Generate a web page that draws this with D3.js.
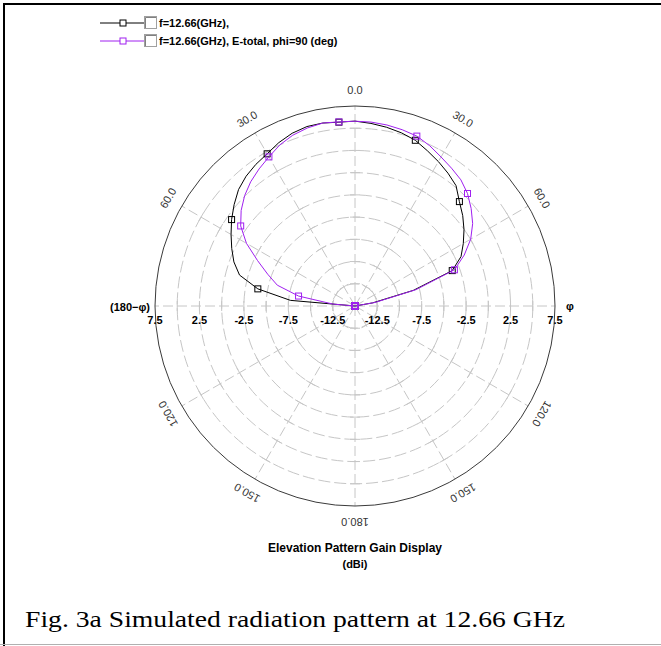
<!DOCTYPE html>
<html><head><meta charset="utf-8">
<script src="https://cdn.jsdelivr.net/npm/d3@7/dist/d3.min.js"></script>
<style>body{margin:0;background:#fff}svg{display:block}</style>
</head><body>
<svg id="c" width="661" height="646"></svg>
<script>
// ---- data (theta in degrees, gain in dBi) ----
const angles = [-180,-175,-170,-165,-160,-155,-150,-145,-140,-135,-130,-125,-120,-115,-110,-105,-100,-95,-90,
  -85,-80,-75,-70,-65,-60,-55,-50,-45,-40,-35,-30,-25,-20,-15,-10,-5,0,5,10,15,20,25,30,35,40,45,50,55,60,65,70,75,80,
  85,90,95,100,105,110,115,120,125,130,135,140,145,150,155,160,165,170,175,180];
const gainTotal = [-25,-25,-25,-25,-25,-25,-25,-25,-25,-25,-25,-25,-25,-25,-25,-25,-25,-25,-25,
  -7.7,-3.9,-1.55,-0.5,0.3,1.1,1.95,2.75,3.53,4.06,4.45,4.77,5.28,5.68,5.9,5.9,5.76,5.8,5.62,5.42,5.17,4.84,4.27,3.76,3.24,2.68,1.61,0.82,-0.03,-0.93,-1.84,-3.36,-8.2,-13.0,
  -25,-25,-25,-25,-25,-25,-25,-25,-25,-25,-25,-25,-25,-25,-25,-25,-25,-25,-25,-25];
const gainETotalPhi90 = [-25,-25,-25,-25,-25,-25,-25,-25,-25,-25,-25,-25,-25,-25,-25,-25,-25,-25,-25,
  -12.5,-8.55,-5.95,-4.55,-2.9,-0.9,0.7,1.72,2.56,3.25,3.82,4.37,5.0,5.45,5.73,5.9,5.79,5.79,5.77,5.68,5.53,5.34,4.89,4.36,3.93,3.53,2.9,2.06,1.16,0.03,-1.44,-3.1,-7.9,-12.7,
  -25,-25,-25,-25,-25,-25,-25,-25,-25,-25,-25,-25,-25,-25,-25,-25,-25,-25,-25,-25];
const radialTickLabels = [7.5, 2.5, -2.5, -7.5, -12.5];
const ringValues = [-12.5,-10,-7.5,-5,-2.5,0,2.5,5];
const spokeAngles = [0,30,60,90,120,150,180,210,240,270,300,330];
const angleLabelAngles = [0,30,60,120,150,180,-30,-60,-120,-150];
const angleLabelTexts = ["0.0","30.0","60.0","120.0","150.0","180.0","30.0","60.0","120.0","150.0"];
const legendLabels = ["f=12.66(GHz),", "f=12.66(GHz), E-total, phi=90 (deg)"];
const seriesColors = ["#000000", "#a020f0"];

// ---- drawing ----
const svg = d3.select("#c");
const FONT = "'Liberation Sans', Arial, sans-serif";
const cx = 355, cy = 306, R = 200;
const r = d3.scaleLinear().domain([-15, 7.5]).range([0, R]).clamp(true);
const rad = d => d * Math.PI / 180;

// frame
svg.append("line").attr("x1",3).attr("x2",661).attr("y1",4).attr("y2",4).attr("stroke","#000").attr("stroke-width",2);
svg.append("line").attr("x1",4).attr("x2",4).attr("y1",3).attr("y2",646).attr("stroke","#000").attr("stroke-width",2);
svg.append("line").attr("x1",0).attr("x2",661).attr("y1",644.5).attr("y2",644.5).attr("stroke","#b0b0b0").attr("stroke-width",1);

const g = svg.append("g").attr("transform", `translate(${cx},${cy})`);

// rings
g.selectAll("circle.ring").data(ringValues).join("circle")
  .attr("class","ring").attr("r", d => r(d)).attr("fill","none")
  .attr("stroke","#c6c6c6").attr("stroke-width",1).attr("stroke-dasharray","12,4");

// spokes
g.selectAll("line.spoke").data(spokeAngles).join("line")
  .attr("class","spoke").attr("x1",0).attr("y1",0)
  .attr("x2", d => R*Math.sin(rad(d))).attr("y2", d => -R*Math.cos(rad(d)))
  .attr("stroke","#c6c6c6").attr("stroke-width",1).attr("stroke-dasharray","10,4");

// cross ticks on spokes
const tickData = [];
spokeAngles.forEach(a => ringValues.forEach(v => tickData.push({a, v})));
g.selectAll("line.tk").data(tickData).join("line")
  .attr("class","tk")
  .attr("x1", d => r(d.v)*Math.sin(rad(d.a)) - 5*Math.cos(rad(d.a)))
  .attr("y1", d => -r(d.v)*Math.cos(rad(d.a)) - 5*Math.sin(rad(d.a)))
  .attr("x2", d => r(d.v)*Math.sin(rad(d.a)) + 5*Math.cos(rad(d.a)))
  .attr("y2", d => -r(d.v)*Math.cos(rad(d.a)) + 5*Math.sin(rad(d.a)))
  .attr("stroke","#c6c6c6").attr("stroke-width",1);

// outer circle
g.append("circle").attr("r", r(7.5)).attr("fill","none").attr("stroke","#3a3a3a").attr("stroke-width",1);

// angle labels
g.selectAll("text.al").data(angleLabelAngles).join("text")
  .attr("class","al")
  .attr("x", d => 216*Math.sin(rad(d))).attr("y", d => -216*Math.cos(rad(d)))
  .attr("transform", d => `rotate(${d},${216*Math.sin(rad(d))},${-216*Math.cos(rad(d))})`)
  .attr("text-anchor","middle").attr("dominant-baseline","central")
  .attr("font-family",FONT).attr("font-size",11).attr("fill","#333")
  .text((d,i) => angleLabelTexts[i]);

// radial tick labels (both sides)
const rtl = [];
radialTickLabels.forEach(v => { rtl.push({v, s:-1}); rtl.push({v, s:1}); });
g.selectAll("text.rl").data(rtl).join("text")
  .attr("class","rl")
  .attr("x", d => d.s*r(d.v)).attr("y", 14)
  .attr("text-anchor","middle").attr("dominant-baseline","central")
  .attr("font-family",FONT).attr("font-size",11).attr("font-weight","bold").attr("fill","#000")
  .text(d => d.v);

g.append("text").attr("x",-205).attr("y",1).attr("text-anchor","end").attr("dominant-baseline","central")
  .attr("font-family",FONT).attr("font-size",11).attr("font-weight","bold").text("(180\u2212\u03c6)");
g.append("text").attr("x",211).attr("y",0).attr("text-anchor","start").attr("dominant-baseline","central")
  .attr("font-family",FONT).attr("font-size",11).attr("font-weight","bold").text("\u03c6");

// curves
const series = [gainTotal, gainETotalPhi90];
const line = d3.lineRadial().angle(d => rad(d.a)).radius(d => r(d.v)).curve(d3.curveLinear);
series.forEach((vals, si) => {
  const pts = angles.map((a,i) => ({a, v: vals[i]}));
  g.append("path").datum(pts).attr("d", line).attr("fill","none")
    .attr("stroke", seriesColors[si]).attr("stroke-width",1);
  const mk = pts.filter(p => (p.a + 180) % 25 === 0);
  g.selectAll(null).data(mk).join("rect")
    .attr("x", d => r(d.v)*Math.sin(rad(d.a)) - 3)
    .attr("y", d => -r(d.v)*Math.cos(rad(d.a)) - 3)
    .attr("width",6).attr("height",6).attr("fill","none")
    .attr("stroke", seriesColors[si]).attr("stroke-width",1);
});

// legend
const legRows = [23, 41];
legendLabels.forEach((t, i) => {
  const y = legRows[i];
  svg.append("line").attr("x1",100).attr("x2",144).attr("y1",y).attr("y2",y)
    .attr("stroke",seriesColors[i]).attr("stroke-width",1);
  svg.append("rect").attr("x",120).attr("y",y-3).attr("width",6).attr("height",6)
    .attr("fill","#fff").attr("stroke",seriesColors[i]);
  svg.append("rect").attr("x",144.5).attr("y",y-6.5).attr("width",12).attr("height",12)
    .attr("fill","#fff").attr("stroke","#a0a0a0");
  svg.append("path").attr("d",`M145.5,${y+5} V${y-5.5} H156`).attr("fill","none").attr("stroke","#808080");
  svg.append("text").attr("x",159).attr("y",y).attr("dominant-baseline","central")
    .attr("font-family",FONT).attr("font-size",11).attr("font-weight","bold").text(t);
});

// title
svg.append("text").attr("x",cx).attr("y",548).attr("text-anchor","middle").attr("dominant-baseline","central")
  .attr("font-family",FONT).attr("font-size",12).attr("font-weight","bold").text("Elevation Pattern Gain Display");
svg.append("text").attr("x",cx).attr("y",564).attr("text-anchor","middle").attr("dominant-baseline","central")
  .attr("font-family",FONT).attr("font-size",11).attr("font-weight","bold").text("(dBi)");

// caption
svg.append("text").attr("x",25).attr("y",627)
  .attr("font-family","'Liberation Serif','DejaVu Serif',serif").attr("font-size",23)
  .attr("textLength",540).attr("lengthAdjust","spacingAndGlyphs")
  .text("Fig. 3a Simulated radiation pattern at 12.66 GHz");
</script>
</body></html>
